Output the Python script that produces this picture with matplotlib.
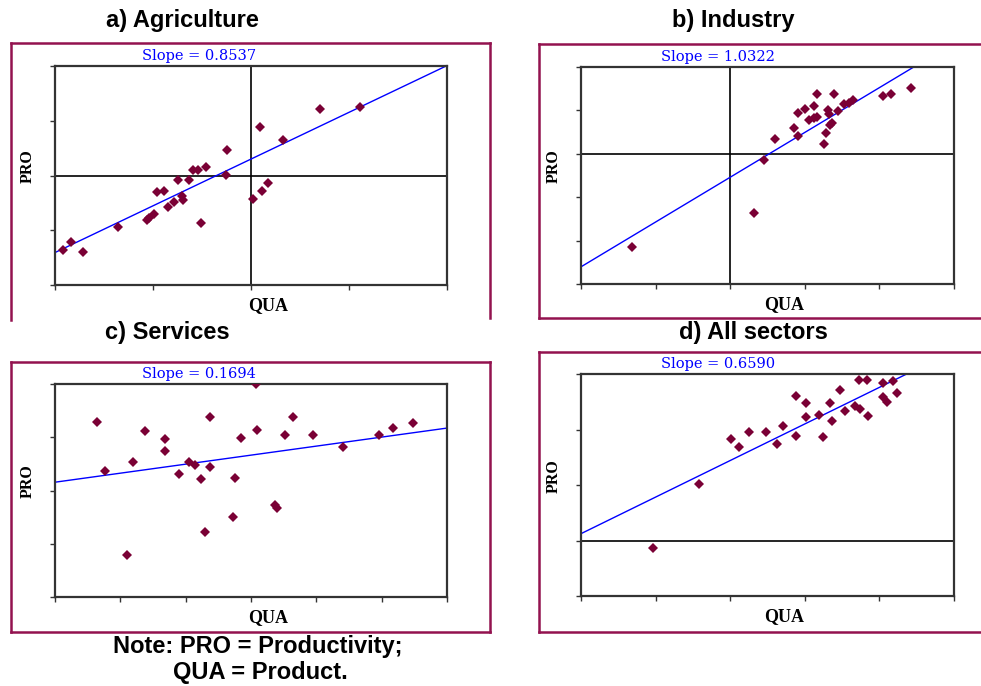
import matplotlib
matplotlib.use('Agg')
import matplotlib.pyplot as plt
import numpy as np
from matplotlib.lines import Line2D

W, H = 981, 686

# ---------------- data ----------------
titles = ["a) Agriculture", "b) Industry", "c) Services", "d) All sectors"]
slopes = [0.8537, 1.0322, 0.1694, 0.6590]
intercepts = [0.30, -0.54, 0.664, 0.123]

agri_x = [-1.92, -1.84, -1.71, -1.36, -1.06, -1.04, -0.99, -0.96, -0.89, -0.85,
          -0.79, -0.75, -0.70, -0.69, -0.63, -0.59, -0.54, -0.51, -0.46, -0.26,
          -0.24, 0.02, 0.09, 0.11, 0.17, 0.33, 0.70, 1.11]
agri_y = [-1.36, -1.21, -1.39, -0.94, -0.81, -0.77, -0.71, -0.31, -0.29, -0.58,
          -0.49, -0.08, -0.37, -0.44, -0.08, 0.10, 0.10, -0.87, 0.16, 0.01,
          0.46, -0.43, 0.88, -0.28, -0.14, 0.64, 1.21, 1.26]

ind_x = [-1.31, 0.32, 0.45, 0.60, 0.86, 0.91, 0.91, 1.00, 1.05, 1.12,
         1.13, 1.17, 1.17, 1.26, 1.29, 1.31, 1.32, 1.34, 1.36, 1.39,
         1.45, 1.52, 1.59, 1.64, 2.05, 2.15, 2.42]
ind_y = [-2.15, -1.37, -0.15, 0.34, 0.60, 0.42, 0.94, 1.04, 0.78, 1.11,
         0.82, 0.85, 1.38, 0.22, 0.48, 1.02, 0.92, 0.67, 0.72, 1.38,
         0.98, 1.15, 1.18, 1.25, 1.34, 1.37, 1.52]

serv_x = [-2.35, -2.23, -1.90, -1.81, -1.62, -1.32, -1.32, -1.10, -0.95, -0.85,
          -0.77, -0.70, -0.62, -0.62, -0.27, -0.24, -0.15, 0.08, 0.09, 0.36,
          0.40, 0.52, 0.64, 0.95, 1.41, 1.96, 2.18, 2.48]
serv_y = [1.29, 0.36, -1.22, 0.54, 1.11, 0.96, 0.75, 0.31, 0.54, 0.48,
          0.21, -0.77, 1.38, 0.45, -0.50, 0.24, 0.99, 2.00, 1.14, -0.27,
          -0.32, 1.04, 1.38, 1.04, 0.81, 1.04, 1.17, 1.26]

all_x = [0.97, 1.58, 2.01, 2.12, 2.25, 2.48, 2.63, 2.71, 2.88, 2.88,
         3.01, 3.01, 3.19, 3.24, 3.34, 3.37, 3.47, 3.54, 3.67, 3.74,
         3.72, 3.83, 3.85, 4.05, 4.05, 4.10, 4.18, 4.23]
all_y = [-0.14, 1.02, 1.83, 1.68, 1.95, 1.95, 1.74, 2.07, 2.60, 1.89,
         2.48, 2.22, 2.27, 1.86, 2.48, 2.16, 2.72, 2.34, 2.42, 2.37,
         2.90, 2.90, 2.24, 2.84, 2.58, 2.50, 2.87, 2.66]

series_x = [agri_x, ind_x, serv_x, all_x]
series_y = [agri_y, ind_y, serv_y, all_y]

x_limits = [(-2, 2), (-2, 3), (-3, 3), (0, 5)]
y_limits = [(-2, 2), (-3, 2), (-2, 2), (-1, 3)]
show_vline = [True, True, False, False]
show_hline = [True, True, False, True]

note_lines = ["Note: PRO = Productivity;", "QUA = Product."]

# ---------------- layout (pixels) ----------------
axes_px = [(55, 66, 447, 285), (581, 67, 954, 284),
           (55, 384, 447, 597), (581, 374, 954, 596)]
title_px = [(182, 20), (733, 20), (167, 333), (753, 333)]

MARKER = '#7a0035'
FRAME = '#93124f'

plt.rcParams['font.family'] = ['Liberation Sans', 'DejaVu Sans']
fig = plt.figure(figsize=(W / 100, H / 100), dpi=100)


def fx(px):
    return px / W


def fy(py):
    return 1 - py / H


# maroon frames drawn as figure lines
frames = [
    [((11, 320), (11, 43)), ((11, 43), (490, 43)), ((490, 43), (490, 318))],
    [((539, 318), (539, 44)), ((539, 44), (990, 44)), ((539, 318), (990, 318))],
    [((11, 362), (490, 362)), ((490, 362), (490, 632)), ((490, 632), (11, 632)), ((11, 632), (11, 362))],
    [((539, 352), (990, 352)), ((539, 352), (539, 632)), ((539, 632), (990, 632))],
]
for fr in frames:
    for (x0, y0), (x1, y1) in fr:
        fig.add_artist(Line2D([fx(x0), fx(x1)], [fy(y0), fy(y1)],
                              transform=fig.transFigure, color=FRAME, lw=1.8,
                              solid_capstyle='projecting'))

for i in range(4):
    l, t, r, b = axes_px[i]
    ax = fig.add_axes([fx(l), fy(b), (r - l) / W, (b - t) / H])
    ax.set_xlim(*x_limits[i])
    ax.set_ylim(*y_limits[i])
    ax.set_xticks(np.arange(x_limits[i][0], x_limits[i][1] + 1))
    ax.set_yticks(np.arange(y_limits[i][0], y_limits[i][1] + 1))
    ax.tick_params(direction='out', length=3.5, width=1, color='#333333',
                   labelbottom=False, labelleft=False)
    for s in ax.spines.values():
        s.set_color('#333333')
        s.set_linewidth(1.6)
    if show_vline[i]:
        ax.axvline(0, color='black', lw=1.2, zorder=1)
    if show_hline[i]:
        ax.axhline(0, color='black', lw=1.2, zorder=1)
    xs = np.array(x_limits[i], dtype=float)
    ax.plot(xs, slopes[i] * xs + intercepts[i], color='#0000ff', lw=1.0, zorder=2)
    ax.plot(series_x[i], series_y[i], linestyle='none', marker='D',
            markersize=5.2, color=MARKER, markeredgewidth=0, zorder=3)

    ax.text(0.367, 1.0 + 10 / (b - t), f"Slope = {slopes[i]:.4f}",
            transform=ax.transAxes, ha='center', va='center',
            color='#0000ff', fontsize=10.5, family='DejaVu Serif')
    ax.text(0.5 + 17 / (r - l), -21 / (b - t), "QUA", transform=ax.transAxes,
            ha='center', va='center', fontsize=13, fontweight='bold',
            family='Liberation Serif')
    ax.text(-27 / (r - l), 0.5 + 9 / (b - t), "PRO", transform=ax.transAxes,
            ha='center', va='center', rotation=90, fontsize=11.5,
            fontweight='bold', family='Liberation Serif')

    tx, ty = title_px[i]
    fig.text(fx(tx), fy(ty), titles[i], ha='center', va='center',
             fontsize=17, fontweight='bold')

fig.text(fx(258), fy(647), note_lines[0], ha='center', va='center',
         fontsize=17, fontweight='bold')
fig.text(fx(260), fy(673), note_lines[1], ha='center', va='center',
         fontsize=17, fontweight='bold')

fig.savefig('out.png', dpi=100)
